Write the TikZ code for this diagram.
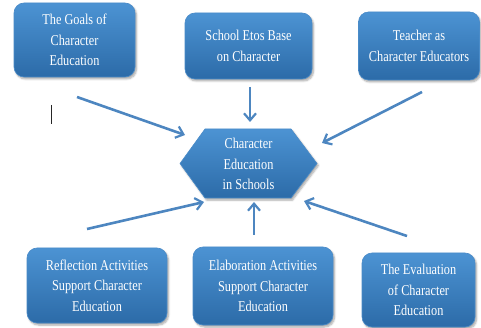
\documentclass[tikz,border=0pt]{standalone}
\usepackage{fontspec}
\setmainfont[FakeStretch=0.82]{Liberation Serif}
\usetikzlibrary{arrows.meta,shadows.blur}
\definecolor{boxtop}{HTML}{4C93D3}
\definecolor{boxbot}{HTML}{2C6BA8}
\definecolor{boxedge}{HTML}{4A8BC8}
\definecolor{arrowc}{HTML}{4D86C0}
\tikzset{
  topic/.style={rectangle, rounded corners=10pt, top color=boxtop, bottom color=boxbot,
    draw=boxedge, line width=0.6pt, text=white, align=center,
    font=\fontsize{15}{20.5}\selectfont, inner sep=0pt,
    blur shadow={shadow blur steps=6, shadow xshift=1.5pt, shadow yshift=-2pt, shadow opacity=35}},
  link/.style={draw=arrowc, line width=2.6pt,
    -{Straight Barb[length=7pt, width=12pt, line width=2.2pt]}},
  centertext/.style={text=white, align=center, font=\fontsize{15}{20.5}\selectfont}
}
\begin{document}
\begin{tikzpicture}[x=1pt,y=-1pt]
\useasboundingbox (0,0) rectangle (481,328);
% boxes
\node[topic, minimum width=121pt, minimum height=74pt] (goals) at (74.5,40) {The Goals of\\Character\\Education};
\node[topic, minimum width=127pt, minimum height=66pt] (etos) at (248.5,46) {School Etos Base\\on Character};
\node[topic, minimum width=121pt, minimum height=68pt] (teacher) at (419,46) {Teacher as\\Character Educators};
\node[topic, minimum width=140pt, minimum height=75pt] (reflect) at (97,285.5) {Reflection Activities\\Support Character\\Education};
\node[topic, minimum width=140pt, minimum height=78pt] (elab) at (263,286) {Elaboration Activities\\Support Character\\Education};
\node[topic, minimum width=113pt, minimum height=74pt] (eval) at (418.5,290) {The Evaluation\\of Character\\Education};
% hexagon
\coordinate (h1) at (180,163.5);
\coordinate (h2) at (205,129);
\coordinate (h3) at (291,129);
\coordinate (h4) at (317,163.5);
\coordinate (h5) at (291,198);
\coordinate (h6) at (205,198);
\path[top color=boxtop, bottom color=boxbot, draw=boxedge, line width=0.6pt,
  blur shadow={shadow blur steps=6, shadow xshift=1.5pt, shadow yshift=-2pt, shadow opacity=35}]
  (h1) -- (h2) -- (h3) -- (h4) -- (h5) -- (h6) -- cycle;
\node[centertext] (hub) at (248.5,164) {Character\\Education\\in Schools};
% arrow end points
\coordinate (a1s) at (77,97);   \coordinate (a1e) at (185,135);
\coordinate (a2s) at (250,87);  \coordinate (a2e) at (250,122);
\coordinate (a3s) at (422,92);  \coordinate (a3e) at (322,143);
\coordinate (a4s) at (87,229);  \coordinate (a4e) at (204,202);
\coordinate (a5s) at (254,235); \coordinate (a5e) at (254,202);
\coordinate (a6s) at (407,236); \coordinate (a6e) at (304,201);
\draw[link] (a1s) -- (a1e);
\draw[link] (a2s) -- (a2e);
\draw[link] (a3s) -- (a3e);
\draw[link] (a4s) -- (a4e);
\draw[link] (a5s) -- (a5e);
\draw[link] (a6s) -- (a6e);
% stray cursor mark
\coordinate (c1) at (51,105);
\coordinate (c2) at (51,124);
\draw[black!85, line width=1pt] (c1) -- (c2);
\end{tikzpicture}
\end{document}
